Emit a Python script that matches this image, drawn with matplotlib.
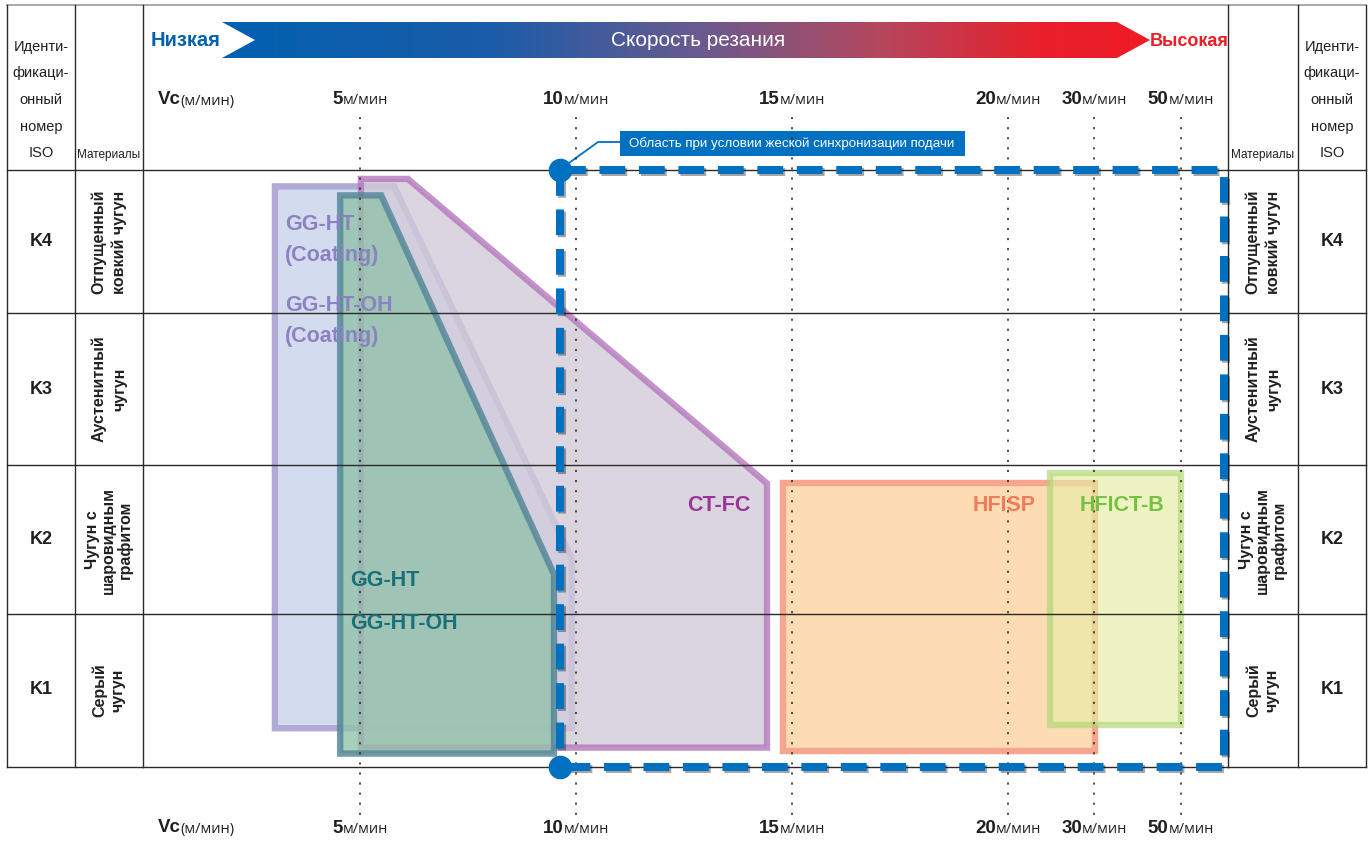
import numpy as np
import matplotlib
matplotlib.use("Agg")
import matplotlib.pyplot as plt
from matplotlib.patches import Polygon, Rectangle
from matplotlib.colors import LinearSegmentedColormap
from matplotlib.offsetbox import TextArea, HPacker, AnnotationBbox
import matplotlib.patheffects as pe

# speed axis: ticks are evenly spaced slots, not a linear scale
scale_speeds = [0, 5, 10, 15, 20, 30, 50, 70]
scale_slots = [0, 1, 2, 3, 4, 4.4, 4.8, 5.2]
tick_speeds = [5, 10, 15, 20, 30, 50]

iso_codes = ["K4", "K3", "K2", "K1"]
materials = ["Отпущенный\nковкий чугун", "Аустенитный\nчугун",
             "Чугун с\nшаровидным\nграфитом", "Серый\nчугун"]

# grade areas: x = cutting speed (m/min), y = row height (0 bottom of K1, 4 top of K4)
coat_speed = [3.03, 5.79, 9.9, 9.9, 3.03]
coat_row = [3.89, 3.89, 1.40, 0.26, 0.26]
ctfc_speed = [5.02, 6.11, 14.42, 14.42, 5.02]
ctfc_row = [3.94, 3.94, 1.90, 0.13, 0.13]
gght_speed = [4.54, 5.49, 9.49, 9.49, 4.54]
gght_row = [3.83, 3.83, 1.29, 0.09, 0.09]
hfisp_speed = [14.8, 30.1]
hfisp_row = [0.11, 1.90]
hfict_speed = [24.9, 50.0]
hfict_row = [0.28, 1.97]
sync_speed = [9.63, 60.0]   # area with rigid feed synchronisation
sync_row = [0, 4]

SANS = ["Liberation Sans", "DejaVu Sans"]
UNIT = ["Open Sans", "DejaVu Sans"]
TXT = "#231f20"

W, H = 1368, 843
fig = plt.figure(figsize=(W / 100, H / 100), dpi=100)

# background axes in pixel units for the table and the header
bg = fig.add_axes([0, 0, 1, 1], zorder=0)

lc = "#2a2a2a"
row_lines = [170, 313, 465, 614, 767]
bg.plot([7, 1366], [5, 5], color="#9a9a9a", lw=1.2)
for y in row_lines:
    bg.plot([7, 143], [y, y], color=lc, lw=1.0)
    bg.plot([1228, 1366], [y, y], color=lc, lw=1.0)
for x in [7, 75, 143, 1228, 1298, 1366]:
    bg.plot([x, x], [5, 767], color=lc, lw=1.0)

# header arrow with gradient
stops = [(0, "#0061b0"), (0.29, "#1b5ca8"), (0.515, "#6a5a8f"),
         (0.71, "#b4475d"), (0.88, "#e8202c"), (1, "#ee1c25")]
cmap = LinearSegmentedColormap.from_list("speed", stops)
im = bg.imshow(np.linspace(0, 1, 512)[None, :], extent=(222, 1150, 58, 22),
               cmap=cmap, aspect="auto", interpolation="bilinear")
arrow = Polygon([(222, 22), (1117, 22), (1150, 40), (1117, 58), (222, 58), (255, 40)],
                closed=True, fc="none", ec="none")
bg.add_patch(arrow)
im.set_clip_path(arrow)

bg.text(186, 41, "Низкая", color="#0061b0", fontsize=14.5, weight="bold",
        family=SANS, ha="center", va="center")
bg.text(1189, 41, "Высокая", color="#ee1c25", fontsize=13, weight="bold",
        family=SANS, ha="center", va="center")
bg.text(698, 40, "Скорость резания", color="white", fontsize=15,
        family=SANS, ha="center", va="center")

iso_head = "Иденти-\nфикаци-\nонный\nномер\nISO"
for x in [41, 1332]:
    bg.text(x, 100, iso_head, ha="center", va="center", fontsize=10.5,
            family=SANS, color=TXT, linespacing=2.15)
for x in [109, 1263]:
    bg.text(x, 155, "Материалы", ha="center", va="center", fontsize=8.5,
            family=SANS, color=TXT)

row_centers = [242, 389, 540, 690]
row_spacing = [1.45, 1.45, 1.05, 1.25]
for code, mat, yc, ls in zip(iso_codes, materials, row_centers, row_spacing):
    for x in [41, 1332]:
        bg.text(x, yc, code, ha="center", va="center", fontsize=13,
                weight="bold", family=SANS, color=TXT)
    for x in [109, 1263]:
        bg.text(x, yc, mat, ha="center", va="center", fontsize=11.5,
                weight="bold", family=SANS, color=TXT, rotation=90,
                linespacing=ls)

# callout for the synchronised feed area
bg.add_patch(Rectangle((620, 131), 345, 25, fc="#0070c0", ec="none"))
bg.text(792, 143.5, "Область при условии жеской синхронизации подачи",
        color="white", fontsize=9.6, family=SANS, ha="center", va="center")
bg.plot([562, 598, 620], [168, 142, 142], color="#0070c0", lw=1.3,
        solid_joinstyle="miter")

for vx, vy in [(196, 100), (196, 828)]:
    a = TextArea("Vc", textprops=dict(fontsize=13.5, weight="bold", family=SANS, color=TXT))
    b = TextArea("(м/мин)", textprops=dict(fontsize=10.5, family=UNIT, color=TXT))
    bg.add_artist(AnnotationBbox(HPacker(children=[a, b], align="baseline", pad=0, sep=0),
                                 (vx, vy), frameon=False, pad=0, box_alignment=(0.5, 0.5)))

bg.set_xlim(0, W)
bg.set_ylim(H, 0)
bg.axis("off")

# chart axes: speed vs material rows
x0, x1, ytop, ybot = 144, 1228, 170, 767
ax = fig.add_axes([x0 / W, 1 - ybot / H, (x1 - x0) / W, (ybot - ytop) / H], zorder=1)
ax.patch.set_visible(False)
fwd = lambda v: np.interp(v, scale_speeds, scale_slots)
inv = lambda p: np.interp(p, scale_slots, scale_speeds)
ax.set_xscale("function", functions=(fwd, inv))
ax.set_xlim(0, 60.9)
ax.set_ylim(0, 4)
ax.axis("off")

# row borders run across the chart, above the grade areas
for y in row_lines:
    ax.plot([143, 1228], [y, y], color=lc, lw=1.0, transform=bg.transData,
            clip_on=False, zorder=4.5)


def area(sp, rw, fc, ec, z, alpha):
    ax.add_patch(Polygon(np.column_stack([sp, rw]), closed=True, fc=fc, ec=ec,
                         lw=4.6, alpha=alpha, zorder=z, joinstyle="miter"))


def box(sp, rw, fc, ec, z, alpha):
    ax.add_patch(Rectangle((sp[0], rw[0]), sp[1] - sp[0], rw[1] - rw[0], fc=fc, ec=ec,
                           lw=4.6, alpha=alpha, zorder=z, joinstyle="miter"))


area(coat_speed, coat_row, "#d3dcef", "#b2aad6", 2, 1.0)
area(ctfc_speed, ctfc_row, "#d2cbd9", "#b478bd", 3, 0.8)
area(gght_speed, gght_row, "#93c2ab", "#4f8496", 4, 0.8)
box(hfisp_speed, hfisp_row, "#fddcb4", "#f6a58e", 2, 1.0)
box(hfict_speed, hfict_row, "#e6eea4", "#b0d676", 3, 0.65)

# dotted guide lines and speed labels
for s in tick_speeds:
    ax.plot([s, s], [4.355, -0.342], color="#222222", lw=1.1, ls=(0, (1.4, 5.2)),
            clip_on=False, zorder=5)
    for row in [4.47, -0.41]:
        num = TextArea(str(s), textprops=dict(fontsize=13.5, weight="bold", family=SANS, color=TXT))
        unit = TextArea("м/мин", textprops=dict(fontsize=10.5, family=UNIT, color=TXT))
        ax.add_artist(AnnotationBbox(HPacker(children=[num, unit], align="baseline", pad=0, sep=0),
                                     (s, row), xycoords="data", frameon=False, pad=0,
                                     box_alignment=(0.5, 0.5), annotation_clip=False))

lab = dict(fontsize=15.5, weight="bold", family=SANS, va="center", zorder=6)
ax.text(3.26, 3.53, "GG-HT\n(Coating)", color="#8a82c2", ha="left", linespacing=1.6, **lab)
ax.text(3.26, 2.99, "GG-HT-OH\n(Coating)", color="#8a82c2", ha="left", linespacing=1.6, **lab)
ax.text(4.77, 1.106, "GG-HT\nGG-HT-OH", color="#17707a", ha="left", linespacing=2.4, **lab)
ax.text(14.03, 1.755, "CT-FC", color="#9a3499", ha="right", **lab)
ax.text(19.9, 1.755, "HFISP", color="#f07a5a", ha="center", **lab)
ax.text(36.4, 1.755, "HFICT-B", color="#76c043", ha="center", **lab)

# rigid synchronisation area (dashed frame)
blue = "#0070c0"
shadow = [pe.SimpleLineShadow(offset=(1.5, -1.5), shadow_color="k", alpha=0.35), pe.Normal()]
s0, s1 = sync_speed
r0, r1 = sync_row
ax.plot([s0, s1, s1, s0], [r1, r1, r0, r0], color=blue, lw=5.8, ls=(0, (3.2, 1.7)),
        clip_on=False, zorder=8, path_effects=shadow)
ax.plot([s0, s0], [r1, r0], color=blue, lw=5.8, ls=(0, (3.2, 1.7)),
        clip_on=False, zorder=8, path_effects=shadow)
ax.plot([s0, s0], [r1, r0], "o", ms=16, color=blue, clip_on=False, zorder=9)

fig.savefig("out.png", dpi=100)
